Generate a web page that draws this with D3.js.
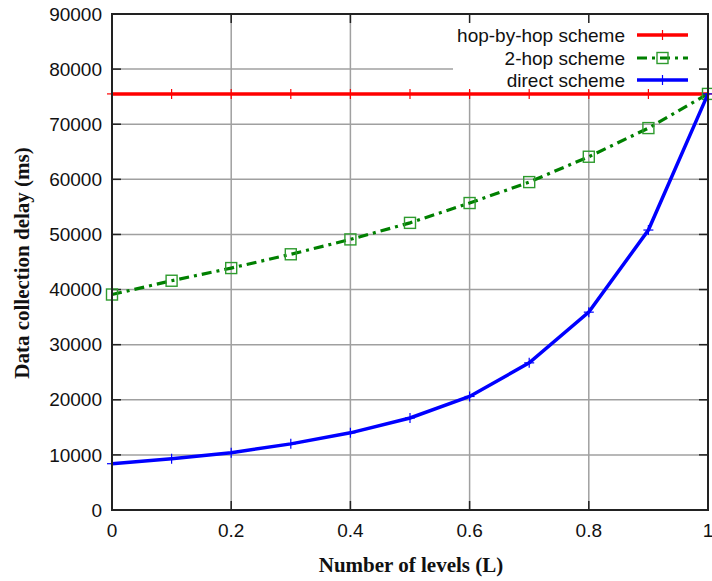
<!DOCTYPE html>
<html><head><meta charset="utf-8">
<script src="https://cdn.jsdelivr.net/npm/d3@7/dist/d3.min.js"></script>
<style>body{margin:0;background:#fff}svg{display:block}</style>
</head><body>
<svg id="chart" width="712" height="581"></svg>
<script>
const levels = [0, 0.1, 0.2, 0.3, 0.4, 0.5, 0.6, 0.7, 0.8, 0.9, 1.0];
const hopByHop = [75500, 75500, 75500, 75500, 75500, 75500, 75500, 75500, 75500, 75500, 75500];
const twoHop = [39100, 41600, 43900, 46400, 49100, 52100, 55700, 59500, 64100, 69300, 75500];
const direct = [8400, 9300, 10400, 12000, 14000, 16700, 20600, 26700, 35900, 50800, 75500];
const seriesNames = ["hop-by-hop scheme", "2-hop scheme", "direct scheme"];
const xTicks = [0, 0.2, 0.4, 0.6, 0.8, 1];
const yTicks = [0, 10000, 20000, 30000, 40000, 50000, 60000, 70000, 80000, 90000];
const xTitle = "Number of levels (L)";
const yTitle = "Data collection delay (ms)";

const svg = d3.select("#chart");
const L = 112, T = 14, R = 708, B = 510;
const x = d3.scaleLinear().domain([0, 1]).range([L, R]);
const y = d3.scaleLinear().domain([0, 90000]).range([B, T]);

// grid
const g = svg.append("g");
g.selectAll(".gx").data(xTicks.slice(1, -1)).enter().append("line")
  .attr("x1", d => x(d)).attr("x2", d => x(d)).attr("y1", T).attr("y2", B)
  .attr("stroke", "#a0a0a0").attr("stroke-width", 1.5);
g.selectAll(".gy").data(yTicks.slice(1, -1)).enter().append("line")
  .attr("x1", L).attr("x2", R).attr("y1", d => y(d)).attr("y2", d => y(d))
  .attr("stroke", "#a0a0a0").attr("stroke-width", 1.5);

// legend background hides grid
svg.append("rect").attr("x", 453).attr("y", T + 1).attr("width", 246).attr("height", 75).attr("fill", "#fff");

// axes ticks (inward, all four sides)
const tk = svg.append("g").attr("stroke", "#222").attr("stroke-width", 1.5);
xTicks.forEach(t => {
  tk.append("line").attr("x1", x(t)).attr("x2", x(t)).attr("y1", B).attr("y2", B - 9);
  tk.append("line").attr("x1", x(t)).attr("x2", x(t)).attr("y1", T).attr("y2", T + 9);
});
yTicks.forEach(t => {
  tk.append("line").attr("x1", L).attr("x2", L + 9).attr("y1", y(t)).attr("y2", y(t));
  tk.append("line").attr("x1", R).attr("x2", R - 9).attr("y1", y(t)).attr("y2", y(t));
});

// tick labels
const fontTick = "'Liberation Sans', Arial, sans-serif";
svg.append("g").selectAll("text").data(yTicks).enter().append("text")
  .attr("x", 102).attr("y", d => y(d)).attr("dy", "0.35em").attr("text-anchor", "end")
  .attr("font-family", fontTick).attr("font-size", 19).attr("fill", "#111").text(d => d);
svg.append("g").selectAll("text").data(xTicks).enter().append("text")
  .attr("x", d => x(d)).attr("y", 537).attr("text-anchor", "middle")
  .attr("font-family", fontTick).attr("font-size", 19).attr("fill", "#111").text(d => d3.format("~g")(d));

// titles
svg.append("text").attr("x", 411).attr("y", 572).attr("text-anchor", "middle")
  .attr("font-family", "'Liberation Serif', 'Times New Roman', serif").attr("font-weight", "bold")
  .attr("font-size", 21).attr("fill", "#111").text(xTitle);
svg.append("text").attr("transform", "translate(29,263) rotate(-90)").attr("text-anchor", "middle")
  .attr("font-family", "'Liberation Serif', 'Times New Roman', serif").attr("font-weight", "bold")
  .attr("font-size", 21).attr("fill", "#111").text(yTitle);

// data
const line = d3.line().x(d => x(d[0])).y(d => y(d[1]));
const pts = vals => levels.map((l, i) => [l, vals[i]]);
const plus = (sel, px, py, color) => {
  sel.append("line").attr("x1", px - 5).attr("x2", px + 5).attr("y1", py).attr("y2", py).attr("stroke", color).attr("stroke-width", 1.2);
  sel.append("line").attr("x1", px).attr("x2", px).attr("y1", py - 5).attr("y2", py + 5).attr("stroke", color).attr("stroke-width", 1.2);
};
const square = (sel, px, py) => {
  sel.append("rect").attr("x", px - 5.5).attr("y", py - 5.5).attr("width", 11).attr("height", 11)
    .attr("fill", "none").attr("stroke", "#2e9b2e").attr("stroke-width", 1.4);
};

const gd = svg.append("g");
gd.append("path").datum(pts(hopByHop)).attr("d", line).attr("fill", "none").attr("stroke", "#ff0000").attr("stroke-width", 3.5);
pts(hopByHop).forEach(p => plus(gd, x(p[0]), y(p[1]), "#ff0000"));
gd.append("path").datum(pts(twoHop)).attr("d", line).attr("fill", "none").attr("stroke", "#008000").attr("stroke-width", 3.2)
  .attr("stroke-dasharray", "10,5,3,5");
pts(twoHop).forEach(p => square(gd, x(p[0]), y(p[1])));
gd.append("path").datum(pts(direct)).attr("d", line).attr("fill", "none").attr("stroke", "#0000ff").attr("stroke-width", 3.5);
pts(direct).forEach(p => plus(gd, x(p[0]), y(p[1]), "#0000ff"));

// frame
svg.append("rect").attr("x", L).attr("y", T).attr("width", R - L).attr("height", B - T)
  .attr("fill", "none").attr("stroke", "#222").attr("stroke-width", 2);

// legend
const lg = svg.append("g");
const rowsY = [35, 58, 80];
seriesNames.forEach((n, i) => {
  lg.append("text").attr("x", 625).attr("y", rowsY[i]).attr("dy", "0.35em").attr("text-anchor", "end")
    .attr("font-family", fontTick).attr("font-size", 19).attr("fill", "#111").text(n);
});
lg.append("line").attr("x1", 637).attr("x2", 688).attr("y1", rowsY[0]).attr("y2", rowsY[0]).attr("stroke", "#ff0000").attr("stroke-width", 3.5);
plus(lg, 662.5, rowsY[0], "#ff0000");
lg.append("line").attr("x1", 637).attr("x2", 688).attr("y1", rowsY[1]).attr("y2", rowsY[1]).attr("stroke", "#008000").attr("stroke-width", 3.2).attr("stroke-dasharray", "10,5,3,5");
square(lg, 662.5, rowsY[1]);
lg.append("line").attr("x1", 637).attr("x2", 688).attr("y1", rowsY[2]).attr("y2", rowsY[2]).attr("stroke", "#0000ff").attr("stroke-width", 3.5);
plus(lg, 662.5, rowsY[2], "#0000ff");
</script>
</body></html>
